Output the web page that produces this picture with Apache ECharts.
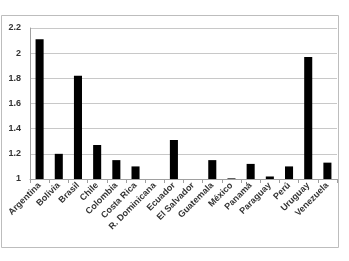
<!DOCTYPE html>
<html><head><meta charset="utf-8">
<script src="https://cdn.jsdelivr.net/npm/echarts@6/dist/echarts.min.js"></script>
<style>html,body{margin:0;padding:0;background:#fff}#c{width:349px;height:261px}</style>
</head><body><div id="c"></div>
<script>
const categories = ["Argentina","Bolivia","Brasil","Chile","Colombia","Costa Rica","R. Dominicana","Ecuador","El Salvador","Guatemala","México","Panamá","Paraguay","Perú","Uruguay","Venezuela"];
const values = [2.11,1.20,1.82,1.27,1.15,1.10,null,1.31,null,1.15,1.005,1.12,1.02,1.10,1.97,1.13];
const yTicks = [1,1.2,1.4,1.6,1.8,2,2.2];

const chart = echarts.init(document.getElementById('c'));
const font = 'Liberation Sans';
chart.setOption({
  animation:false,
  graphic:[{type:'rect',shape:{x:1.5,y:15.5,width:337,height:232},style:{fill:'none',stroke:'#bdbdbd',lineWidth:1},z:-1}],
  grid:{left:30,top:28,right:12,bottom:82,containLabel:false},
  xAxis:{type:'category',data:categories,
    axisLine:{lineStyle:{color:'#a0a0a0'}},
    axisTick:{show:true,alignWithLabel:false,length:4,lineStyle:{color:'#a0a0a0'}},
    axisLabel:{rotate:45,interval:0,fontFamily:font,fontWeight:'bold',fontSize:9,color:'#333',margin:5}},
  yAxis:{type:'value',min:1,max:2.2,interval:0.2,
    axisLine:{show:true,lineStyle:{color:'#a0a0a0'}},
    axisTick:{show:false},
    splitLine:{lineStyle:{color:'#c8c8c8'}},
    axisLabel:{fontFamily:font,fontWeight:'bold',fontSize:9,color:'#333',margin:9,
      formatter:v=>{const r=Math.round(v*10)/10;return yTicks.includes(r)?String(r):'';}}},
  series:[{type:'bar',data:values,barWidth:'42%',itemStyle:{color:'#000'}}]
});
</script></body></html>
